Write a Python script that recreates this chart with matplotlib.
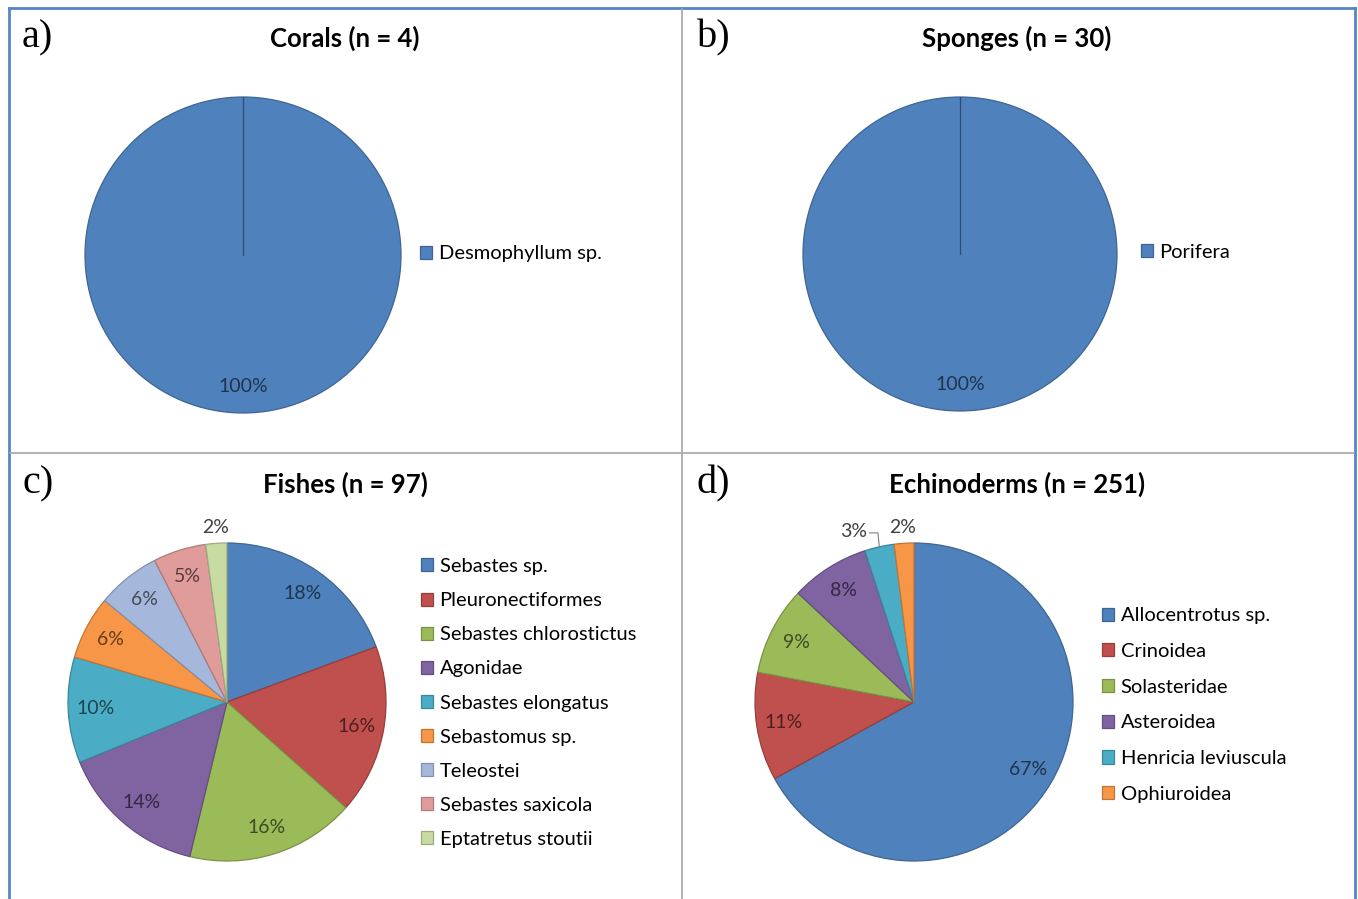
"""Four pie charts: corals, sponges, fishes, echinoderms"""

import numpy as np
import matplotlib
matplotlib.use("Agg")
import matplotlib.pyplot as plt
from matplotlib.colors import to_rgb
from matplotlib.lines import Line2D

# data
coral_labels = ["Desmophyllum sp."]
coral_pct = [100]

sponge_labels = ["Porifera"]
sponge_pct = [100]

fish_labels = ["Sebastes sp.", "Pleuronectiformes", "Sebastes chlorostictus", "Agonidae",
               "Sebastes elongatus", "Sebastomus sp.", "Teleostei", "Sebastes saxicola",
               "Eptatretus stoutii"]
fish_pct = [18, 16, 16, 14, 10, 6, 6, 5, 2]

echino_labels = ["Allocentrotus sp.", "Crinoidea", "Solasteridae", "Asteroidea",
                 "Henricia leviuscula", "Ophiuroidea"]
echino_pct = [67, 11, 9, 8, 3, 2]

# excel 2007 palette
BLUE, RED, GREEN, PURPLE, TEAL, ORANGE = "#4F81BD", "#C0504D", "#9BBB59", "#8064A2", "#4BACC6", "#F79646"
fish_colors = [BLUE, RED, GREEN, PURPLE, TEAL, ORANGE, "#A5B8DC", "#E09C9A", "#C8DBA2"]
echino_colors = [BLUE, RED, GREEN, PURPLE, TEAL, ORANGE]

W, H = 1358, 899
plt.rcParams["font.family"] = ["Lato", "DejaVu Sans"]
fig = plt.figure(figsize=(W / 100, H / 100), dpi=100)


def darker(c, f):
	return tuple(v * f for v in to_rgb(c))


def px_axes(cx, cy, r):
	#square axes around the pie centre, given in pixels
	return fig.add_axes([(cx - r) / W, 1 - (cy + r) / H, 2 * r / W, 2 * r / H])


def draw_pie(ax, values, colors, seam=False):
	wedges, _ = ax.pie(values, colors=colors, startangle=90, counterclock=False,
	                   radius=1, wedgeprops=dict(linewidth=0.9))
	for w, c in zip(wedges, colors):
		w.set_edgecolor(darker(c, 0.78))
	if seam:
		a = np.deg2rad(90)
		ax.plot([0, np.cos(a)], [0, np.sin(a)], color=darker(colors[0], 0.6), lw=0.9)
	ax.set_xlim(-1, 1)
	ax.set_ylim(-1, 1)
	ax.set_aspect("equal")
	return wedges


def pct_labels(ax, wedges, values, colors, dist=0.83, outer=(), outer_dist=1.1):
	pos = []
	for i, (w, v, c) in enumerate(zip(wedges, values, colors)):
		mid = np.deg2rad((w.theta1 + w.theta2) / 2)
		d = outer_dist if i in outer else dist
		x, y = d * np.cos(mid), d * np.sin(mid)
		col = "#404040" if i in outer else darker(c, 0.4)
		t = ax.text(x, y, f"{v}%", ha="center", va="center", fontsize=14, color=col)
		pos.append((t, mid))
	return pos


def legend(wedges, labels, x, y, spacing):
	fig.legend(wedges, labels, loc="center left", bbox_to_anchor=(x / W, 1 - y / H),
	           bbox_transform=fig.transFigure, frameon=False, fontsize=14.5,
	           handlelength=0.62, handleheight=0.62, handletextpad=0.3,
	           labelspacing=spacing, borderpad=0, borderaxespad=0)


def header(cx, cy, title, letter, lx):
	fig.text(cx / W, 1 - cy / H, title, ha="center", va="center", fontsize=18.5, fontweight="bold")
	fig.text(lx / W, 1 - cy / H, letter, ha="left", va="center", fontsize=29,
	         family=["Liberation Serif", "DejaVu Serif"])


# a) corals
ax = px_axes(243, 255, 158)
w = draw_pie(ax, coral_pct, [BLUE], seam=True)
pct_labels(ax, w, coral_pct, [BLUE])
legend(w, coral_labels, 420, 254, 0.85)
header(345, 38, "Corals (n = 4)", "a)", 22)

# b) sponges
ax = px_axes(960, 254, 157)
w = draw_pie(ax, sponge_pct, [BLUE], seam=True)
pct_labels(ax, w, sponge_pct, [BLUE])
legend(w, sponge_labels, 1141, 252, 0.85)
header(1017, 38, "Sponges (n = 30)", "b)", 697)

# c) fishes
ax = px_axes(227, 702, 159)
w = draw_pie(ax, fish_pct, fish_colors)
pct_labels(ax, w, fish_pct, fish_colors, outer=(8,))
legend(w, fish_labels, 421, 703, 0.85)
header(345, 484, "Fishes (n = 97)", "c)", 22)

# d) echinoderms
ax = px_axes(914, 702, 159)
w = draw_pie(ax, echino_pct, echino_colors)
labs = pct_labels(ax, w, echino_pct, echino_colors, outer=(4, 5))
#3% label pushed left with a small leader line like excel does
t, mid = labs[4]
tx, ty = t.get_position()
t.set_position((tx - 0.14, ty))
ax.plot([np.cos(mid) * 1.0, np.cos(mid) * 1.04, tx - 0.04], [np.sin(mid) * 1.0, ty - 0.01, ty - 0.01],
        color="#7f7f7f", lw=0.8, clip_on=False)
legend(w, echino_labels, 1102, 705, 0.93)
header(1017, 484, "Echinoderms (n = 251)", "d)", 697)

# panel frames
frame = "#5585C5"
grid = "#A6A6A6"
fig.add_artist(Line2D([9 / W, 1355 / W], [1 - 8 / H, 1 - 8 / H], color=frame, lw=2))
fig.add_artist(Line2D([9 / W, 9 / W], [0, 1 - 8 / H], color=frame, lw=2))
fig.add_artist(Line2D([1355 / W, 1355 / W], [0, 1 - 8 / H], color=frame, lw=2))
fig.add_artist(Line2D([10 / W, 1354 / W], [1 - 453 / H, 1 - 453 / H], color=grid, lw=1.2))
fig.add_artist(Line2D([681.5 / W, 681.5 / W], [0, 1 - 9 / H], color=grid, lw=1.2))

fig.savefig("out.png", dpi=100)
